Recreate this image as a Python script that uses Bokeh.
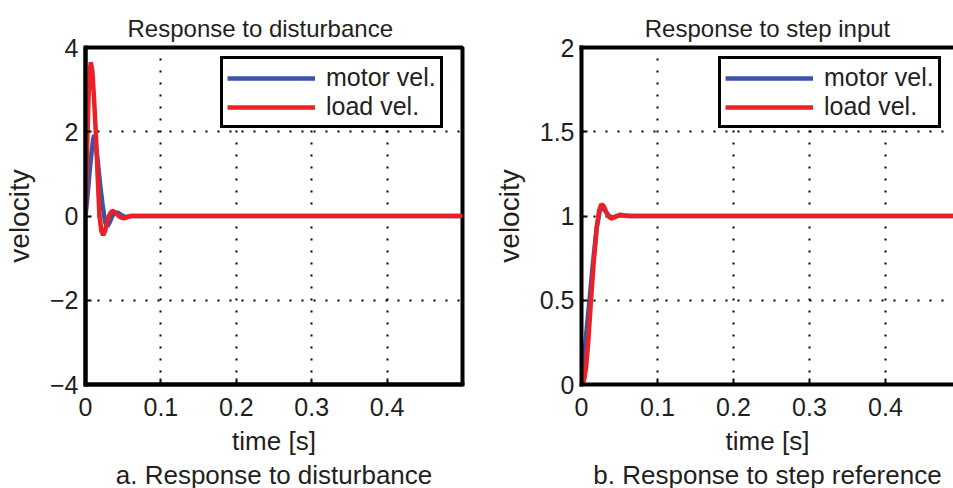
from bokeh.plotting import figure
from bokeh.models import FixedTicker, Title, Legend, LegendItem, LinearAxis
from bokeh.layouts import row
from bokeh.embed import file_html
from bokeh.resources import INLINE

# ---------------- data ----------------
# a. Response to disturbance
dist_t_motor = [0, 0.002, 0.004, 0.006, 0.008, 0.010, 0.0115, 0.013, 0.015, 0.018, 0.020,
                0.0224, 0.026, 0.029, 0.032, 0.0355, 0.039, 0.043, 0.047, 0.051, 0.055,
                0.062, 0.07, 0.5]
dist_v_motor = [0, 0.35, 0.75, 1.15, 1.5, 1.8, 1.92, 1.85, 1.5, 1.0, 0.65,
                0.3, -0.15, -0.25, -0.15, 0.0, 0.08, 0.08, 0.03, -0.01, -0.02,
                0.0, 0.0, 0.0]
dist_t_load = [0, 0.002, 0.004, 0.0055, 0.007, 0.009, 0.011, 0.0136, 0.016, 0.0185,
               0.021, 0.0235, 0.026, 0.0285, 0.031, 0.034, 0.037, 0.040, 0.044, 0.048,
               0.051, 0.055, 0.060, 0.5]
dist_v_load = [0, 1.5, 2.8, 3.4, 3.65, 3.45, 2.9, 2.0, 1.0, 0.0,
               -0.35, -0.45, -0.35, -0.15, 0.0, 0.1, 0.12, 0.07, 0.0, -0.045,
               -0.055, -0.03, 0.0, 0.0]

# b. Response to step reference
step_t_motor = [0, 0.003, 0.006, 0.0105, 0.015, 0.020, 0.024, 0.027, 0.029, 0.032,
                0.036, 0.041, 0.047, 0.053, 0.06, 0.5]
step_v_motor = [0, 0.14, 0.29, 0.5, 0.72, 0.93, 1.03, 1.05, 1.047, 1.025,
                1.0, 0.992, 1.0, 1.004, 1.0, 1.0]
step_t_load = [0, 0.002, 0.004, 0.006, 0.009, 0.0125, 0.016, 0.020, 0.023, 0.026,
               0.029, 0.032, 0.035, 0.039, 0.045, 0.051, 0.057, 0.065, 0.5]
step_v_load = [0, 0.01, 0.04, 0.1, 0.26, 0.5, 0.72, 0.93, 1.03, 1.07,
               1.06, 1.03, 1.0, 0.985, 0.995, 1.008, 1.003, 1.0, 1.0]

x_ticks = [0, 0.1, 0.2, 0.3, 0.4]
x_tick_labels = ["0", "0.1", "0.2", "0.3", "0.4"]
dist_y_ticks = [-4, -2, 0, 2, 4]
dist_y_labels = ["\u22124", "\u22122", "0", "2", "4"]
step_y_ticks = [0, 0.5, 1, 1.5, 2]
step_y_labels = ["0", "0.5", "1", "1.5", "2"]

series_names = ["motor vel.", "load vel."]
series_colors = ["#3b55a5", "#ec2027"]

FONT = "Liberation Sans"
TXT = "#231f20"


def style_axis(ax, ticks, labels):
    ax.ticker = FixedTicker(ticks=ticks)
    if labels:
        ax.major_label_overrides = {t: l for t, l in zip(ticks, labels)}
    ax.axis_line_color = "black"
    ax.axis_line_width = 4
    ax.axis_line_cap = "square"
    ax.major_tick_in = 6
    ax.major_tick_out = 0
    ax.major_tick_line_width = 2
    ax.major_tick_line_color = "black"
    ax.minor_tick_line_color = None
    ax.major_label_text_font = FONT
    ax.major_label_text_color = TXT
    ax.major_label_text_font_size = "25px"
    ax.axis_label_text_font = FONT
    ax.axis_label_text_font_style = "normal"
    ax.axis_label_text_color = TXT


def make_panel(title, caption, xr, yr, y_ticks, y_labels, tm, vm, tl, vl,
               width, border_left, border_right, title_align, title_offset,
               title_standoff, legend_x, closed_right):
    p = figure(width=width, height=488, x_range=xr, y_range=yr,
               output_backend="svg", toolbar_location=None,
               min_border_left=border_left, min_border_right=border_right,
               min_border_top=47, min_border_bottom=103)
    p.background_fill_color = "white"
    p.border_fill_color = "white"

    xa = p.below[0]
    style_axis(xa, x_ticks, x_tick_labels)
    xa.axis_label = "time [s]"
    xa.axis_label_text_font_size = "26px"
    xa.major_label_standoff = 13
    xa.axis_label_standoff = 7

    ya = p.left[0]
    style_axis(ya, y_ticks, y_labels)
    ya.axis_label = "velocity"
    ya.axis_label_text_font_size = "28px"
    ya.major_label_standoff = 7
    ya.axis_label_standoff = 12

    if closed_right:
        p.outline_line_color = "black"
        p.outline_line_width = 4
        p.outline_line_alpha = 1
    else:
        # frame is cut by the page's right edge: only a top line
        p.outline_line_color = None
        top = LinearAxis()
        style_axis(top, [], [])
        top.major_label_standoff = 0
        top.axis_label_standoff = 0
        p.add_layout(top, "above")

    # dotted grid
    for g in (p.xgrid[0], p.ygrid[0]):
        g.grid_line_color = "black"
        g.grid_line_dash = "2 10"
        g.grid_line_width = 2
    p.xgrid[0].ticker = FixedTicker(ticks=x_ticks)
    p.ygrid[0].ticker = FixedTicker(ticks=y_ticks)

    r1 = p.line(tm, vm, line_color=series_colors[0], line_width=4.5)
    r2 = p.line(tl, vl, line_color=series_colors[1], line_width=4.5)

    leg = Legend(items=[LegendItem(label=series_names[0], renderers=[r1]),
                        LegendItem(label=series_names[1], renderers=[r2])],
                 location=(legend_x, 256))
    leg.label_text_font = FONT
    leg.label_text_font_size = "25px"
    leg.label_text_color = TXT
    leg.glyph_width = 88
    leg.glyph_height = 26
    leg.label_height = 26
    leg.label_width = 100
    leg.label_standoff = 11
    leg.padding = 4
    leg.spacing = 0
    leg.margin = 0
    leg.border_line_color = "black"
    leg.border_line_width = 3
    leg.border_line_alpha = 1
    leg.background_fill_color = "white"
    leg.background_fill_alpha = 1
    p.add_layout(leg, "center")

    p.title.text = title
    p.title.text_font = FONT
    p.title.text_font_size = "24px"
    p.title.text_font_style = "normal"
    p.title.text_color = TXT
    p.title.align = title_align
    p.title.offset = title_offset
    p.title.standoff = title_standoff

    cap = Title(text=caption, align="center", text_font=FONT,
                text_font_size="26px", text_font_style="normal",
                text_color=TXT, standoff=-2)
    p.add_layout(cap, "below")
    return p


p1 = make_panel("Response to disturbance", "a. Response to disturbance",
                (0, 0.5), (-4, 4), dist_y_ticks, dist_y_labels,
                dist_t_motor, dist_v_motor, dist_t_load, dist_v_load,
                width=476, border_left=83, border_right=14,
                title_align="left", title_offset=42, title_standoff=12,
                legend_x=135, closed_right=True)
p2 = make_panel("Response to step input", "b. Response to step reference",
                (0, 0.4895), (0, 2), step_y_ticks, step_y_labels,
                step_t_motor, step_v_motor, step_t_load, step_v_load,
                width=477, border_left=105, border_right=0,
                title_align="center", title_offset=0, title_standoff=12,
                legend_x=137, closed_right=False)

layout = row(p1, p2)
open("out.html", "w").write(file_html(layout, INLINE))
